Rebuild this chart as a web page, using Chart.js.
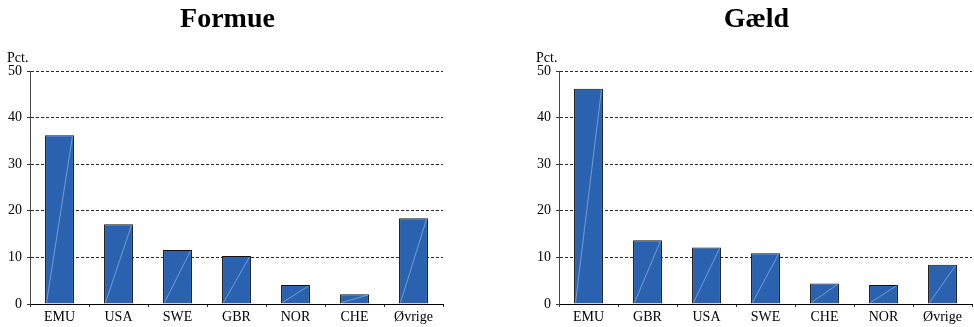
<!DOCTYPE html>
<html>
<head>
<meta charset="utf-8">
<script src="https://cdn.jsdelivr.net/npm/chart.js@4/dist/chart.umd.min.js"></script>
<style>
  html, body { margin: 0; padding: 0; background: #fff; }
  #wrap { position: relative; width: 974px; height: 327px; overflow: hidden; }
  canvas { position: absolute; top: 0; }
  #cFormue { left: 0; }
  #cGaeld { left: 487px; }
</style>
</head>
<body>
<div id="wrap">
  <canvas id="cFormue" width="487" height="327"></canvas>
  <canvas id="cGaeld" width="487" height="327"></canvas>
</div>
<script>
// Fordeling af formue og gæld på lande (pct.)
const titleFormue = 'Formue';
const titleGaeld = 'Gæld';
const unitLabel = 'Pct.';

const categoriesFormue = ['EMU', 'USA', 'SWE', 'GBR', 'NOR', 'CHE', 'Øvrige'];
const valuesFormue = [36.2, 17.1, 11.6, 10.3, 4.1, 2.1, 18.4];

const categoriesGaeld = ['EMU', 'GBR', 'USA', 'SWE', 'CHE', 'NOR', 'Øvrige'];
const valuesGaeld = [46.2, 13.7, 12.1, 10.9, 4.4, 4.1, 8.4];

const yMin = 0;
const yMax = 50;
const yStep = 10;

const SERIF = '"Liberation Serif", "Times New Roman", Times, serif';
const BAR_BLUE = '#2a62b0';

// Title above the plot, the unit label over the y axis and a light diagonal in each bar
function decorations(title) {
  return {
    id: 'decorations',
    afterDatasetsDraw(chart) {
      const ctx = chart.ctx;
      const meta = chart.getDatasetMeta(0);
      ctx.save();
      ctx.strokeStyle = 'rgba(175, 200, 240, 0.7)';
      ctx.lineWidth = 0.8;
      meta.data.forEach(bar => {
        const p = bar.getProps(['x', 'y', 'base', 'width'], true);
        ctx.beginPath();
        ctx.moveTo(p.x - p.width / 2 + 1.5, p.base - 1);
        ctx.lineTo(p.x + p.width / 2 - 1.5, p.y + 1);
        ctx.stroke();
      });
      ctx.restore();
    },
    afterDraw(chart) {
      const ctx = chart.ctx;
      const a = chart.chartArea;
      ctx.save();
      ctx.fillStyle = '#000';
      ctx.font = 'bold 28px ' + SERIF;
      ctx.textAlign = 'center';
      ctx.textBaseline = 'alphabetic';
      ctx.fillText(title, (a.left + a.right) / 2 - 9, 27);
      ctx.font = '14px ' + SERIF;
      ctx.textAlign = 'left';
      ctx.fillText(unitLabel, a.left - 23, a.top - 9);
      ctx.restore();
    }
  };
}

function makeChart(id, title, labels, values, padLeft, padRight) {
  return new Chart(document.getElementById(id), {
    type: 'bar',
    data: {
      labels: labels,
      datasets: [{
        data: values,
        backgroundColor: BAR_BLUE,
        borderColor: '#111',
        borderWidth: 1,
        borderSkipped: 'bottom',
        categoryPercentage: 1.0,
        barPercentage: 0.49
      }]
    },
    options: {
      responsive: false,
      animation: false,
      events: [],
      layout: { padding: { top: 71, bottom: 0, left: padLeft, right: padRight } },
      plugins: {
        legend: { display: false },
        title: { display: false },
        tooltip: { enabled: false }
      },
      scales: {
        x: {
          offset: true,
          grid: {
            offset: true,
            drawOnChartArea: false,
            drawTicks: true,
            tickLength: 3,
            tickColor: '#333',
            tickWidth: 1
          },
          border: { display: true, color: '#000', width: 1 },
          ticks: {
            color: '#000',
            font: { family: SERIF, size: 14 },
            padding: 2,
            maxRotation: 0,
            autoSkip: false
          },
          afterFit(scale) { scale.height = 23; }
        },
        y: {
          min: yMin,
          max: yMax,
          grid: {
            color: '#2a2a2a',
            lineWidth: 1,
            drawTicks: true,
            tickLength: 3,
            tickColor: '#333',
            tickBorderDash: [],
            tickWidth: 1
          },
          border: { display: true, color: '#444', width: 1, dash: [3, 2] },
          ticks: {
            stepSize: yStep,
            color: '#000',
            font: { family: SERIF, size: 14 },
            padding: 5
          },
          afterFit(scale) { scale.width = 30; }
        }
      }
    },
    plugins: [decorations(title)]
  });
}

makeChart('cFormue', titleFormue, categoriesFormue, valuesFormue, 0, 44);
makeChart('cGaeld', titleGaeld, categoriesGaeld, valuesGaeld, 42, 2);
</script>
</body>
</html>
